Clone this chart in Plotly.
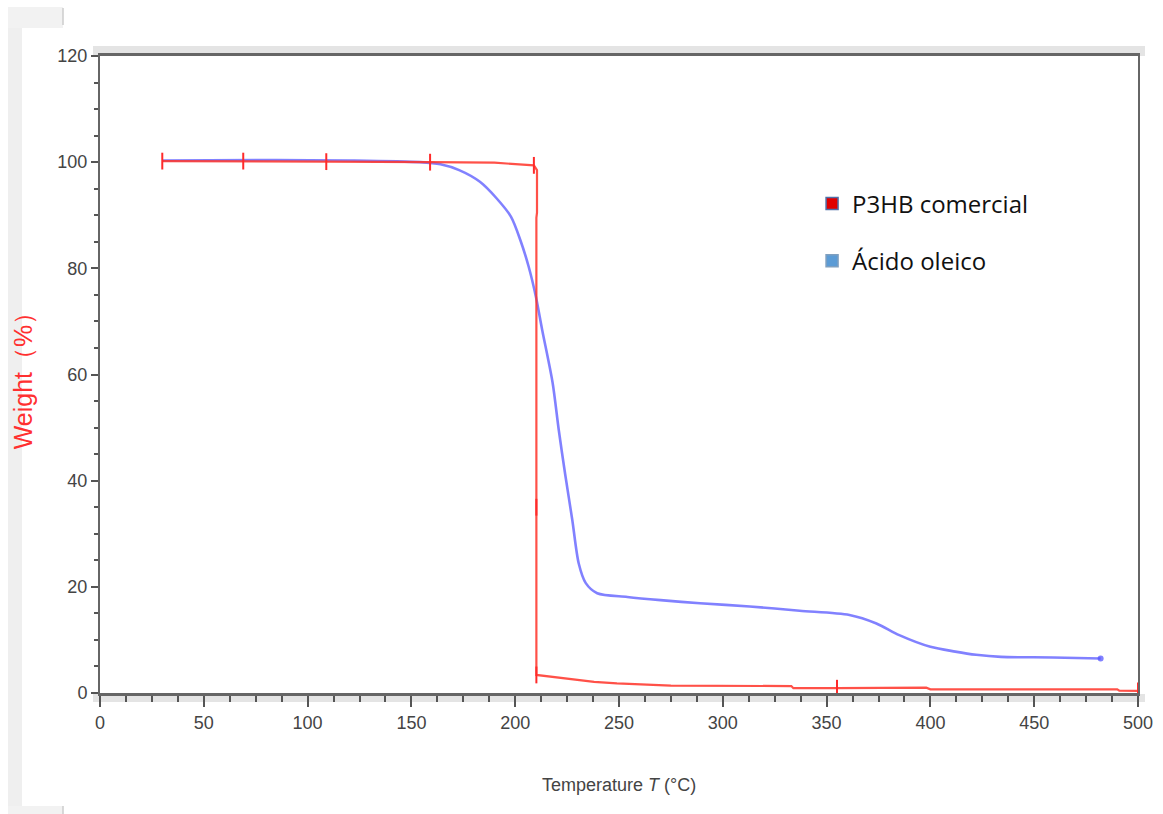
import plotly.graph_objects as go

# ---- data ----
p3hb_temp = [30, 69, 109, 159, 190, 209, 210.5, 210.5, 210.2, 210.2, 217, 238, 249, 275,
             333, 334, 355, 385, 398, 400, 490, 491, 500]
p3hb_weight = [100.2, 100.2, 100.1, 100.0, 99.9, 99.4, 98.5, 90.5, 89.5, 3.4, 3.1, 2.1, 1.8, 1.4,
               1.3, 0.9, 0.9, 1.0, 1.0, 0.7, 0.7, 0.45, 0.4]

p3hb_mark_temp = [30, 69, 109, 159, 209, 210.2, 210.2, 355, 500]
p3hb_mark_weight = [100.2, 100.2, 100.1, 100.0, 99.4, 35.0, 3.4, 0.9, 0.4]

oleic_temp = [30, 85, 120, 154, 164, 173, 183, 191, 198, 202.5, 206.5, 210, 213, 218, 221,
              224, 227.5, 230.6, 234, 239.5, 254, 270, 289, 313, 337, 361, 374, 385, 400,
              412, 422, 434, 459, 482]
oleic_weight = [100.3, 100.4, 100.3, 100.0, 99.6, 98.5, 96.3, 93.2, 89.7, 85.3, 80.3, 74.6,
                68.4, 58.5, 49.5, 41.4, 32.6, 24.4, 20.7, 18.8, 18.1, 17.5, 16.9, 16.3, 15.5,
                14.7, 13.1, 10.9, 8.7, 7.8, 7.2, 6.8, 6.7, 6.5]

legend_names = ["P3HB comercial", "Ácido oleico"]
x_ticks = [0, 50, 100, 150, 200, 250, 300, 350, 400, 450, 500]
y_ticks = [0, 20, 40, 60, 80, 100, 120]

FONT = "Liberation Sans, Arial, sans-serif"
RED = "#ff2a2a"

fig = go.Figure()

fig.add_trace(go.Scatter(
    x=oleic_temp, y=oleic_weight, mode="lines",
    line=dict(color="rgba(80,80,255,0.72)", width=2.6, shape="spline", smoothing=0.8),
    showlegend=False, hoverinfo="skip"))
fig.add_trace(go.Scatter(
    x=oleic_temp[-1:], y=oleic_weight[-1:], mode="markers",
    marker=dict(color="rgba(80,80,255,0.72)", size=6),
    showlegend=False, hoverinfo="skip"))
fig.add_trace(go.Scatter(
    x=p3hb_temp, y=p3hb_weight, mode="lines",
    line=dict(color="rgba(255,50,40,0.85)", width=2.2),
    showlegend=False, hoverinfo="skip"))
fig.add_trace(go.Scatter(
    x=p3hb_mark_temp, y=p3hb_mark_weight, mode="markers",
    marker=dict(symbol="line-ns-open", size=12, color=RED, line=dict(color=RED, width=2)),
    showlegend=False, hoverinfo="skip"))

# legend entries (square swatches)
fig.add_trace(go.Scatter(
    x=[None], y=[None], mode="markers", name=legend_names[0], legendgroup="a",
    marker=dict(symbol="square", size=12, color="#e00000", line=dict(color="#4f6fa8", width=1.5))))
fig.add_trace(go.Scatter(
    x=[None], y=[None], mode="markers", name=legend_names[1], legendgroup="b",
    marker=dict(symbol="square", size=12, color="#5b9bd5", line=dict(color="#7f9fbf", width=1.5))))

fig.update_layout(
    width=1163, height=814,
    margin=dict(l=100, r=25, t=56, b=121),
    paper_bgcolor="white", plot_bgcolor="white",
    font=dict(family=FONT, color="#444444"),
    legend=dict(x=0.686, y=0.803, xanchor="left", yanchor="top",
                font=dict(family="Open Sans, Liberation Sans, sans-serif", size=24, color="#111111"),
                bgcolor="rgba(0,0,0,0)", tracegroupgap=23, traceorder="grouped",
                itemwidth=30),
    xaxis=dict(range=[0, 500], tickvals=x_ticks, ticks="outside", ticklen=11, tickwidth=1.5,
               tickcolor="#555555", showline=True, linecolor="#666666", linewidth=3,
               mirror=True, showgrid=False, zeroline=False, automargin=False,
               minor=dict(dtick=12.5, ticks="outside", ticklen=6, tickwidth=1.5, tickcolor="#555555"),
               tickfont=dict(family=FONT, size=18, color="#444444"),
               title=dict(text="Temperature <i>T</i> (°C)", standoff=47,
                          font=dict(family=FONT, size=18, color="#444444"))),
    yaxis=dict(range=[0, 120], tickvals=y_ticks, ticks="outside", ticklen=7, tickwidth=1.5,
               tickcolor="#555555", showline=True, linecolor="#666666", linewidth=2,
               mirror=True, showgrid=False, zeroline=False, automargin=False,
               minor=dict(dtick=5, ticks="outside", ticklen=4, tickwidth=1.5, tickcolor="#555555"),
               tickfont=dict(family=FONT, size=18, color="#444444"),
               title=dict(text="Weight（%）", standoff=18,
                          font=dict(family=FONT, size=25, color="#ff3030"))),
)

# light shading bands and outer bracket (decoration)
def px2x(px):
    return (px - 100) / 1038.0

def py2y(py):
    return (693 - py) / 637.0

shapes = [
    dict(x0=px2x(93), x1=px2x(1145), y0=py2y(56), y1=py2y(46), fill="#e4e4e4"),
    dict(x0=px2x(93), x1=px2x(1145), y0=py2y(702), y1=py2y(694), fill="#e4e4e4"),
    dict(x0=px2x(8), x1=px2x(22), y0=py2y(806), y1=py2y(28), fill="#efefef"),
    dict(x0=px2x(8), x1=px2x(63), y0=py2y(28), y1=py2y(7), fill="#f2f2f2"),
    dict(x0=px2x(8), x1=px2x(63), y0=py2y(814), y1=py2y(806), fill="#f2f2f2"),
]
for s in shapes:
    fig.add_shape(type="rect", xref="paper", yref="paper", x0=s["x0"], x1=s["x1"],
                  y0=s["y0"], y1=s["y1"], fillcolor=s["fill"], line=dict(width=0), layer="below")
fig.add_shape(type="line", xref="paper", yref="paper", x0=px2x(63), x1=px2x(63),
              y0=py2y(25), y1=py2y(8), line=dict(color="#cccccc", width=1.5))
fig.add_shape(type="line", xref="paper", yref="paper", x0=px2x(63), x1=px2x(63),
              y0=py2y(814), y1=py2y(806), line=dict(color="#cccccc", width=1.5))

fig.write_html("out.html", config={"displayModeBar": False},
               post_script="document.body.style.margin='0';document.body.style.overflow='hidden';")
